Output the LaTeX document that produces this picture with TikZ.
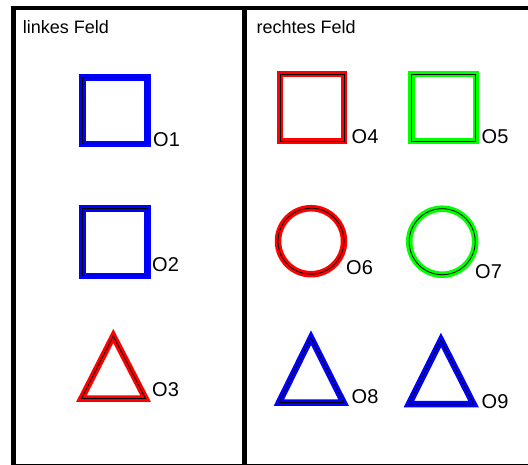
\documentclass[tikz,border=0pt]{standalone}
\usepackage{fontspec}
\setmainfont{Liberation Sans}
\definecolor{pblue}{RGB}{0,0,255}
\definecolor{pred}{RGB}{255,0,0}
\definecolor{pgreen}{RGB}{0,255,0}
\tikzset{
  frameline/.style={draw=black, line width=4.5pt},
  objshape/.style={draw=#1, line width=6.5pt, line join=miter,
    postaction={draw=black, line width=0.8pt}},
  title/.style={anchor=base west, inner sep=0pt, font=\fontsize{18}{20}\selectfont},
  lbl/.style={anchor=base west, inner sep=0pt, font=\fontsize{20}{22}\selectfont}
}
\begin{document}
\begin{tikzpicture}[x=1pt,y=-1pt]
\useasboundingbox (0,0) rectangle (528,465);
\fill[white] (0,0) rectangle (528,465);
% frame
\coordinate (tl) at (13.3,8.2);
\coordinate (tr) at (530,8.2);
\coordinate (bl) at (13.3,466);
\coordinate (br) at (530,466);
\coordinate (mt) at (244.7,8.2);
\coordinate (mb) at (244.7,466);
\draw[frameline] (tr) -- (tl) -- (bl) -- (br);
\draw[frameline] (mt) -- (mb);
% titles
\node[title] (tleft) at (22.7,34) {linkes Feld};
\node[title] (tright) at (256.5,34) {rechtes Feld};
% left field
\draw[objshape=pblue] (82.6,77.3) rectangle (147.4,143.8);
\node[lbl] (o1) at (153,146.7) {O1};
\draw[objshape=pblue] (82.6,208.3) rectangle (147.4,275.8);
\node[lbl] (o2) at (152,272) {O2};
\draw[objshape=pred] (113.3,336) -- (145.5,398.5) -- (81.5,398.5) -- cycle;
\node[lbl] (o3) at (152,396.5) {O3};
% right field
\draw[objshape=pred] (280,74) rectangle (344,141);
\node[lbl] (o4) at (351.5,143.3) {O4};
\draw[objshape=pgreen] (411.6,74) rectangle (475.8,141);
\node[lbl] (o5) at (481.5,143.3) {O5};
\draw[objshape=pred] (311,241.2) circle (33);
\node[lbl] (o6) at (346,275) {O6};
\draw[objshape=pgreen] (442.2,241.7) circle (33);
\node[lbl] (o7) at (475,278.3) {O7};
\draw[objshape=pblue] (311,337.7) -- (343.5,402.5) -- (279,402.5) -- cycle;
\node[lbl] (o8) at (351.5,403.3) {O8};
\draw[objshape=pblue] (441,340) -- (473.5,404) -- (409,404) -- cycle;
\node[lbl] (o9) at (481.5,408) {O9};
\end{tikzpicture}
\end{document}
